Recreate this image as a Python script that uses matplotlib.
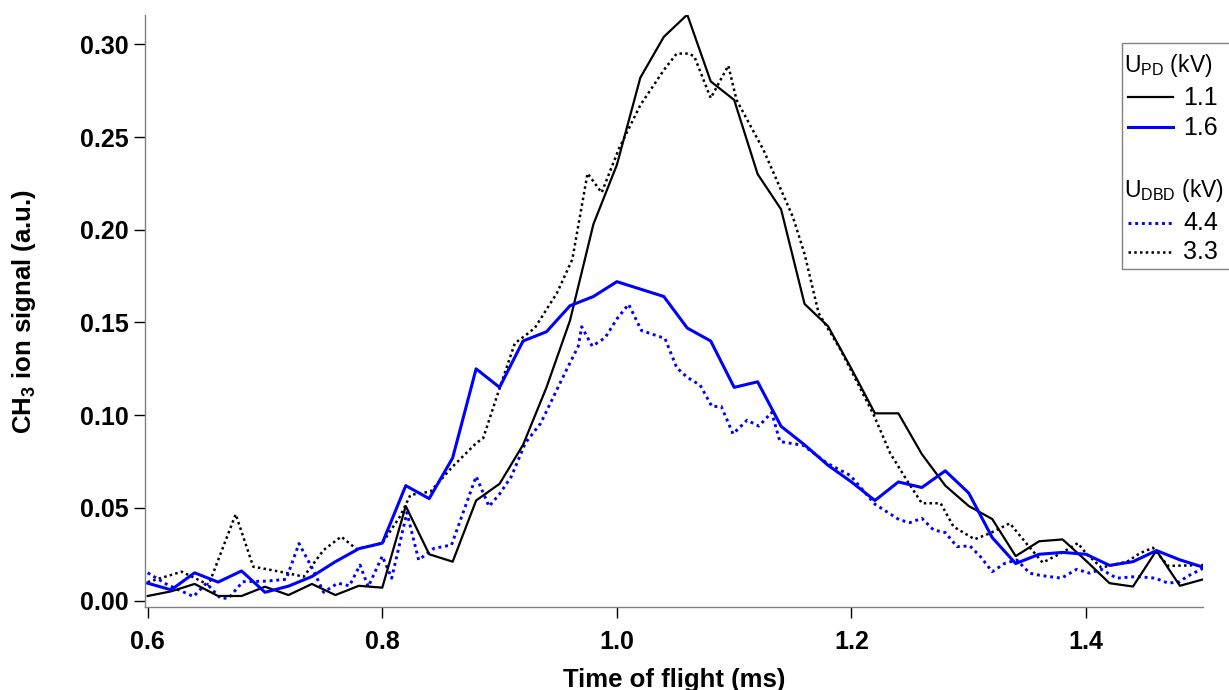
import numpy as np
import matplotlib
matplotlib.use("Agg")
import matplotlib.pyplot as plt
from matplotlib.lines import Line2D
from matplotlib.patches import Rectangle
from matplotlib.ticker import FormatStrFormatter

plt.rcParams["font.family"] = ["Liberation Sans", "DejaVu Sans"]
plt.rcParams["mathtext.fontset"] = "custom"
plt.rcParams["mathtext.rm"] = "Liberation Sans"
plt.rcParams["mathtext.it"] = "Liberation Sans:italic"
plt.rcParams["mathtext.bf"] = "Liberation Sans:bold"

# time of flight (ms), 0.02 ms sampling for the PD traces
t_pd = [0.60, 0.62, 0.64, 0.66, 0.68, 0.70, 0.72, 0.74, 0.76, 0.78,
        0.80, 0.82, 0.84, 0.86, 0.88, 0.90, 0.92, 0.94, 0.96, 0.98,
        1.00, 1.02, 1.04, 1.06, 1.08, 1.10, 1.12, 1.14, 1.16, 1.18,
        1.20, 1.22, 1.24, 1.26, 1.28, 1.30, 1.32, 1.34, 1.36, 1.38,
        1.40, 1.42, 1.44, 1.46, 1.48, 1.50]

pd_11 = [0.0025, 0.005, 0.009, 0.0025, 0.0025, 0.0075, 0.003, 0.009, 0.003, 0.008,
         0.007, 0.051, 0.025, 0.021, 0.054, 0.063, 0.084, 0.115, 0.151, 0.203,
         0.235, 0.282, 0.304, 0.316, 0.280, 0.270, 0.230, 0.211, 0.160, 0.148,
         0.125, 0.101, 0.101, 0.079, 0.062, 0.051, 0.044, 0.024, 0.032, 0.033,
         0.0215, 0.0094, 0.0076, 0.027, 0.008, 0.0115]

pd_16 = [0.0094, 0.0058, 0.015, 0.010, 0.016, 0.0045, 0.0078, 0.013, 0.021, 0.028,
         0.031, 0.062, 0.055, 0.077, 0.125, 0.115, 0.140, 0.145, 0.159, 0.164,
         0.172, 0.168, 0.164, 0.147, 0.140, 0.115, 0.118, 0.094, 0.084, 0.073,
         0.064, 0.054, 0.064, 0.061, 0.070, 0.058, 0.034, 0.020, 0.025, 0.026,
         0.025, 0.019, 0.021, 0.027, 0.022, 0.018]

# DBD traces (finer, irregular sampling)
t_dbd_44 = [0.600, 0.617, 0.639, 0.650, 0.662, 0.669, 0.681, 0.701, 0.718, 0.729,
            0.741, 0.750, 0.762, 0.772, 0.781, 0.788, 0.800, 0.808, 0.821, 0.831,
            0.844, 0.859, 0.880, 0.891, 0.900, 0.910, 0.922, 0.935, 0.946, 0.957,
            0.967, 0.970, 0.979, 0.990, 1.000, 1.010, 1.021, 1.041, 1.051, 1.060,
            1.071, 1.081, 1.089, 1.099, 1.111, 1.121, 1.132, 1.139, 1.159, 1.179,
            1.199, 1.220, 1.241, 1.250, 1.260, 1.270, 1.280, 1.290, 1.301, 1.310,
            1.320, 1.331, 1.341, 1.352, 1.361, 1.379, 1.392, 1.403, 1.413, 1.426,
            1.443, 1.459, 1.470, 1.480, 1.486, 1.500]
dbd_44 = [0.0150, 0.0085, 0.0022, 0.0094, 0.0013, 0.0013, 0.0102, 0.0105, 0.0115, 0.0308,
          0.0166, 0.0045, 0.0094, 0.0080, 0.0192, 0.0075, 0.0240, 0.0121, 0.0475, 0.0219,
          0.0282, 0.0300, 0.0670, 0.0508, 0.0575, 0.0669, 0.0850, 0.0956, 0.1100, 0.1244,
          0.1370, 0.1477, 0.1372, 0.1418, 0.1519, 0.1598, 0.1456, 0.1414, 0.1256, 0.1204,
          0.1162, 0.1047, 0.1047, 0.0899, 0.0973, 0.0941, 0.1015, 0.0858, 0.0837, 0.0742,
          0.0675, 0.0520, 0.0435, 0.0421, 0.0444, 0.0381, 0.0367, 0.0291, 0.0295, 0.0237,
          0.0156, 0.0202, 0.0219, 0.0148, 0.0136, 0.0121, 0.0169, 0.0148, 0.0169, 0.0121,
          0.0130, 0.0121, 0.0094, 0.0102, 0.0130, 0.0175]

t_dbd_33 = [0.600, 0.629, 0.652, 0.675, 0.690, 0.717, 0.733, 0.750, 0.765, 0.778,
            0.800, 0.815, 0.824, 0.841, 0.860, 0.880, 0.886, 0.900, 0.913, 0.922,
            0.930, 0.949, 0.962, 0.969, 0.975, 0.987, 1.002, 1.020, 1.040, 1.051,
            1.061, 1.066, 1.080, 1.095, 1.102, 1.125, 1.150, 1.160, 1.172, 1.190,
            1.207, 1.219, 1.233, 1.247, 1.260, 1.276, 1.287, 1.305, 1.318, 1.335,
            1.349, 1.363, 1.380, 1.393, 1.400, 1.413, 1.435, 1.446, 1.457, 1.470,
            1.500]
dbd_33 = [0.0100, 0.0156, 0.0085, 0.0466, 0.0183, 0.0151, 0.0129, 0.0273, 0.0345, 0.0278,
          0.0310, 0.0453, 0.0570, 0.0588, 0.0723, 0.0849, 0.0876, 0.1145, 0.1388, 0.1430,
          0.1470, 0.1660, 0.1840, 0.2090, 0.2304, 0.2200, 0.2441, 0.2672, 0.2861, 0.2950,
          0.2950, 0.2935, 0.2710, 0.2885, 0.2700, 0.2430, 0.2070, 0.1870, 0.1550, 0.1361,
          0.1151, 0.1001, 0.0795, 0.0651, 0.0525, 0.0525, 0.0399, 0.0331, 0.0363, 0.0417,
          0.0309, 0.0205, 0.0260, 0.0310, 0.0255, 0.0178, 0.0210, 0.0256, 0.0285, 0.0187,
          0.0192]

W, H = 1229, 690
fig = plt.figure(figsize=(W / 100, H / 100), dpi=100)
ax = fig.add_axes([145 / W, 1 - 607.3 / H, (1203 - 145) / W, (607.3 - 15) / H])

dot = (0, (1, 1.3))
ax.plot(t_dbd_33, dbd_33, color="black", lw=1.8, linestyle=dot)
ax.plot(t_dbd_44, dbd_44, color="#0000ff", lw=2.1, linestyle=dot)
ax.plot(t_pd, pd_11, color="black", lw=1.6)
ax.plot(t_pd, pd_16, color="#0000ff", lw=2.2)

ax.set_xlim(0.5977, 1.4997)
ax.set_ylim(-0.0036, 0.3158)
ax.set_xticks([0.6, 0.8, 1.0, 1.2, 1.4])
ax.set_yticks([0.0, 0.05, 0.10, 0.15, 0.20, 0.25, 0.30])
ax.xaxis.set_major_formatter(FormatStrFormatter("%.1f"))
ax.yaxis.set_major_formatter(FormatStrFormatter("%.2f"))

for side in ("top", "right"):
    ax.spines[side].set_visible(False)
for side in ("left", "bottom"):
    ax.spines[side].set_color("#808080")
    ax.spines[side].set_linewidth(1.0)
ax.tick_params(direction="out", length=8, width=1, color="black", labelsize=18)
ax.tick_params(axis="y", pad=4)
ax.tick_params(axis="x", pad=8)
for lab in ax.get_xticklabels() + ax.get_yticklabels():
    lab.set_fontweight("bold")

ax.set_xlabel("Time of flight (ms)", fontsize=18.5, fontweight="bold")
ax.set_ylabel(r"CH$_\mathbf{3}$ ion signal (a.u.)", fontsize=18.5, fontweight="bold")
ax.xaxis.set_label_coords(0.5, -0.102)
ax.yaxis.set_label_coords(-0.101, 0.5)

# legend box in pixel units of the figure
def fx(px):
    return px / W

def fy(py):
    return 1 - py / H

fig.patches.append(Rectangle((fx(1121.7), fy(269.3)), fx(1240) - fx(1121.7),
                             fy(43.3) - fy(269.3), transform=fig.transFigure,
                             fill=False, edgecolor="#808080", lw=1.0))

leg_fs = 18
fig.text(fx(1124), fy(71.7), r"U$_\mathrm{PD}$ (kV)", fontsize=16.5, va="baseline")
fig.text(fx(1124), fy(196.7), r"U$_\mathrm{DBD}$ (kV)", fontsize=16.5, va="baseline")

entries = [
    (96.7, 105.3, "1.1", "black", "-", 1.6),
    (126.7, 135.0, "1.6", "#0000ff", "-", 2.2),
    (222.7, 230.0, "4.4", "#0000ff", dot, 2.1),
    (252.3, 259.3, "3.3", "black", dot, 1.8),
]
for ly, by, txt, col, ls, lw in entries:
    fig.lines.append(Line2D([fx(1128), fx(1173)], [fy(ly), fy(ly)], transform=fig.transFigure,
                            color=col, linestyle=ls, lw=lw))
    fig.text(fx(1183), fy(by), txt, fontsize=leg_fs, va="baseline")

fig.savefig("out.png", dpi=100)
